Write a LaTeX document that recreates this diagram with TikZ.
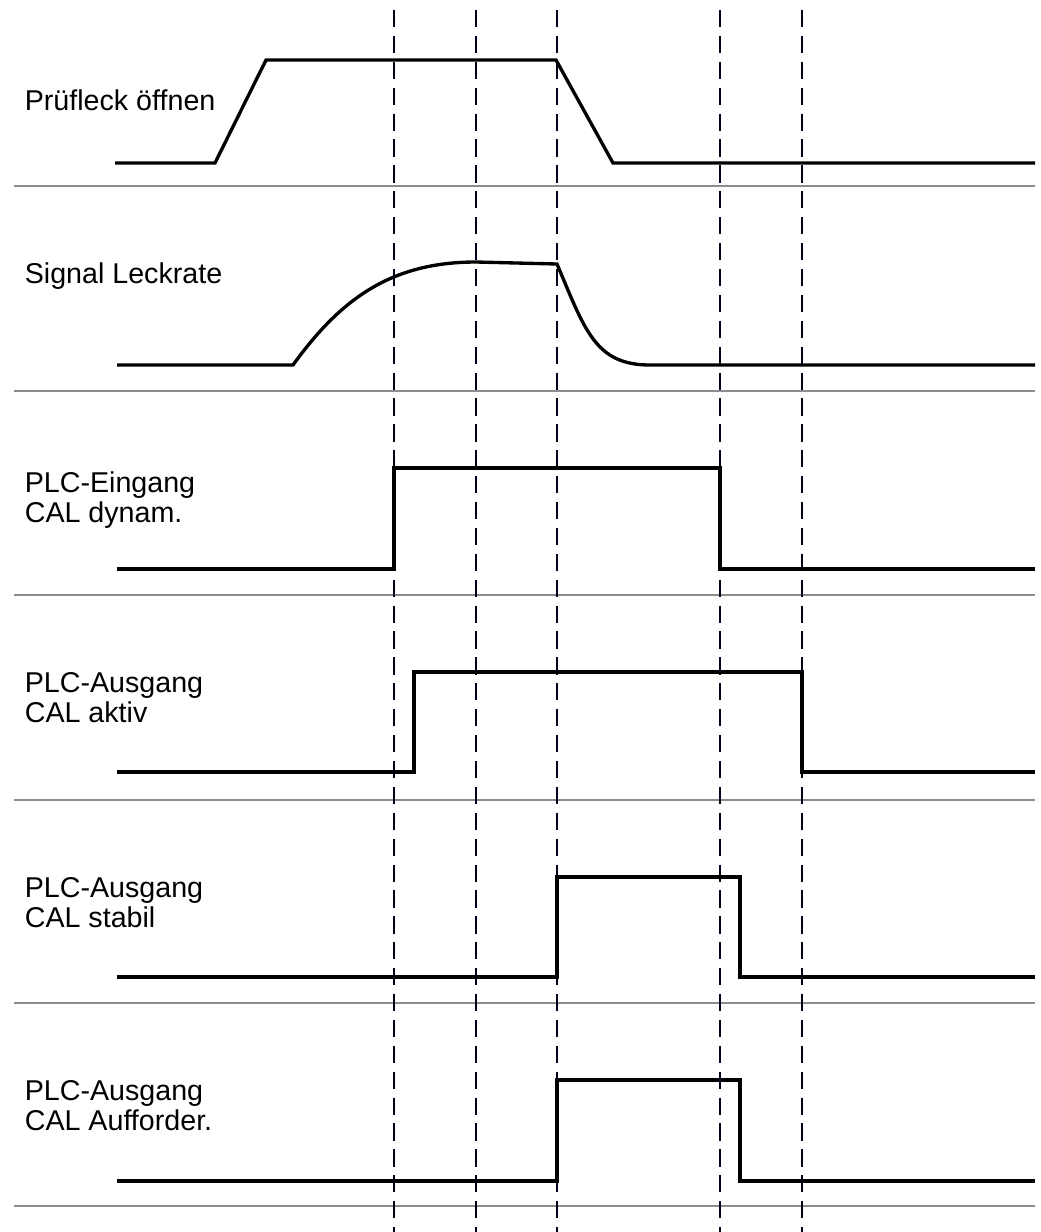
\documentclass[tikz,border=0pt]{standalone}
\usepackage{fontspec}
\setmainfont{Liberation Sans}

\begin{document}
\begin{tikzpicture}[x=0.02cm,y=-0.02cm]
\tikzset{
  siglabel/.style={anchor=base west,inner sep=0pt,align=left,font=\fontsize{16.3}{17}\selectfont},
  sigline/.style={draw=black,line width=1.9pt,line join=miter},
  sepline/.style={draw=black!45,line width=1.5pt},
  timeline/.style={draw=black!90!blue,line width=1.3pt,dash pattern=on 0.344cm off 0.174cm}
}
\useasboundingbox (0,0) rectangle (1041,1232);
\foreach \y in {186,391,595,800,1003,1206}
  \draw[sepline] (14,\y) -- (1035,\y);
\foreach \t in {394,476,557,720,802}
  \draw[timeline] (\t,10) -- (\t,1232);
\node[siglabel] (n_pruef) at (24.5,110.7) {Prüfleck öffnen};
\node[siglabel] (n_leck) at (24.5,283.3) {Signal Leckrate};
\node[siglabel] (n_eingang) at (24.5,522.7) {PLC-Eingang\\CAL dynam.};
\node[siglabel] (n_aktiv) at (24.5,722) {PLC-Ausgang\\CAL aktiv};
\node[siglabel] (n_stabil) at (24.5,927) {PLC-Ausgang\\CAL stabil};
\node[siglabel] (n_auff) at (24.5,1130) {PLC-Ausgang\\CAL Aufforder.};
\draw[sigline] (115,163) -- (215,163) -- (266,60) -- (556,60) -- (613,163) -- (1035,163);
\draw[sigline] (117,365) -- (293,365) .. controls (340,300) and (390,262) .. (476,262)
  -- (557,264) .. controls (585,330) and (595,365) .. (650,365) -- (1035,365);
\draw[sigline] (117,569) -- (394,569) -- (394,468) -- (720,468) -- (720,569) -- (1035,569);
\draw[sigline] (117,772) -- (414,772) -- (414,672) -- (802,672) -- (802,772) -- (1035,772);
\draw[sigline] (117,977) -- (557,977) -- (557,877) -- (740,877) -- (740,977) -- (1035,977);
\draw[sigline] (117,1181) -- (557,1181) -- (557,1080) -- (740,1080) -- (740,1181) -- (1035,1181);
\end{tikzpicture}
\end{document}
